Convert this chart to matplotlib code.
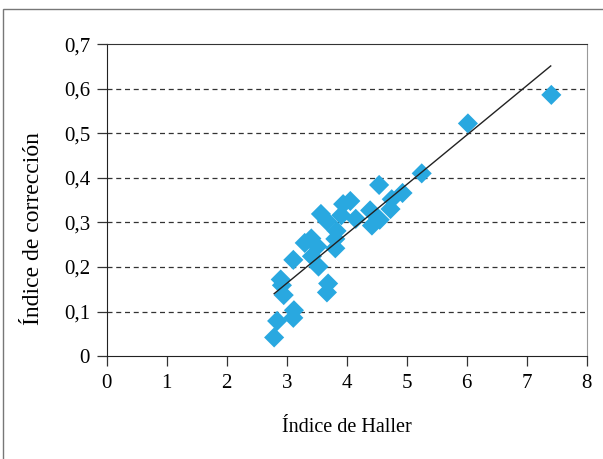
import numpy as np
import matplotlib
matplotlib.use('Agg')
import matplotlib.pyplot as plt
from matplotlib.patches import Rectangle

# Data
haller = [2.79, 2.84, 2.90, 2.92, 2.95, 3.11, 3.12, 3.11, 3.30, 3.41,
          3.42, 3.51, 3.53, 3.57, 3.67, 3.69, 3.67, 3.81, 3.83, 3.81,
          3.91, 3.94, 4.06, 4.15, 4.39, 4.42, 4.55, 4.54, 4.73, 4.75,
          4.93, 5.25, 6.02, 7.41]
correccion = [0.042, 0.079, 0.172, 0.159, 0.137, 0.216, 0.103, 0.086, 0.254, 0.264,
              0.224, 0.246, 0.201, 0.319, 0.303, 0.163, 0.143, 0.242, 0.281, 0.263,
              0.316, 0.341, 0.348, 0.308, 0.327, 0.293, 0.306, 0.384, 0.330, 0.352,
              0.366, 0.410, 0.522, 0.586]
trend_slope = 0.1108
trend_intercept = -0.169
trend_x = [2.79, 7.40]

xticks = [0, 1, 2, 3, 4, 5, 6, 7, 8]
yticks = [0, 0.1, 0.2, 0.3, 0.4, 0.5, 0.6, 0.7]
ytick_labels = ['0', '0,1', '0,2', '0,3', '0,4', '0,5', '0,6', '0,7']

plt.rcParams['font.family'] = ['Liberation Serif', 'DejaVu Serif']

fig = plt.figure(figsize=(6.03, 4.59), dpi=100)
ax = fig.add_axes([0.177, 0.224, 0.796, 0.680])

# outer frame of the figure (left and top edges visible)
fig.patches.append(Rectangle((0.005, -0.05), 1.2, 1.03, transform=fig.transFigure,
                             fill=False, edgecolor='#777777', linewidth=1.0))

for y in yticks[1:-1]:
    ax.axhline(y, color='#333333', linestyle=(0, (4, 3)), linewidth=0.9, zorder=1)

ax.scatter(haller, correccion, marker='D', s=105, color='#29a8e0',
           edgecolors='none', zorder=3)

tx = np.array(trend_x)
ax.plot(tx, trend_slope * tx + trend_intercept, color='#222222', linewidth=1.0, zorder=4)

ax.set_xlim(0, 8)
ax.set_ylim(0, 0.7)
ax.set_xticks(xticks)
ax.set_yticks(yticks)
ax.set_yticklabels(ytick_labels)
ax.tick_params(axis='both', direction='out', length=7, width=0.9, labelsize=15,
               color='#333333')
ax.tick_params(axis='x', pad=6)
ax.tick_params(axis='y', pad=5)

ax.spines['left'].set_color('#222222')
ax.spines['bottom'].set_color('#222222')
ax.spines['top'].set_color('#333333')
ax.spines['right'].set_color('#999999')

ax.set_xlabel('Índice de Haller', fontsize=14.5, labelpad=18)
ax.set_ylabel('Índice de corrección', fontsize=17)
ax.yaxis.set_label_coords(-0.131, 0.41)

fig.savefig('out.png', dpi=100)
